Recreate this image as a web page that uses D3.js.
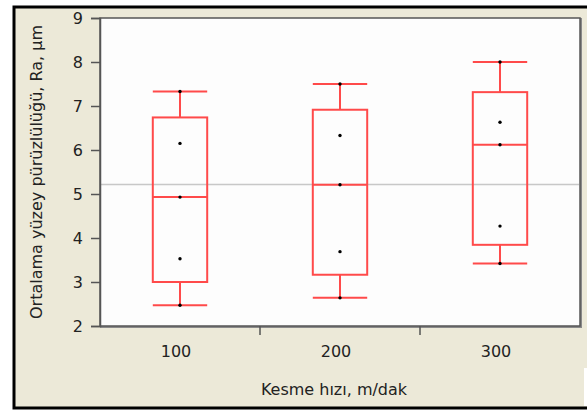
<!DOCTYPE html>
<html>
<head>
<meta charset="utf-8">
<script src="https://cdn.jsdelivr.net/npm/d3@7"></script>
<style>
  body { margin: 0; background: #fff; }
  svg { display: block; }
  text { font-family: "DejaVu Sans", "Liberation Sans", sans-serif; fill: #222; }
</style>
</head>
<body>
<svg id="chart" width="587" height="412"></svg>
<script>
// categories (cutting speed, m/min)
const categories = ["100", "200", "300"];

const ra_100 = [2.47, 3.53, 4.93, 6.15, 7.33];
const ra_200 = [2.64, 3.69, 5.21, 6.33, 7.50];
const ra_300 = [3.42, 4.27, 6.12, 6.63, 8.00];
const series = [ra_100, ra_200, ra_300];

const y_ticks = [2, 3, 4, 5, 6, 7, 8, 9];

const x_title = "Kesme hızı, m/dak";
const y_title = "Ortalama yüzey pürüzlülüğü, Ra, µm";

// layout
const plot_left = 100;
const plot_right = 580;
const plot_top = 18;
const plot_bottom = 326;
const box_frac = 0.34;
const box_color = "#ff4a4a";

const svg = d3.select("#chart");

// quantile the way the source software does it: position (n+1)p
function quantile(values, p) {
    const v = values.slice().sort((a, b) => a - b);
    const pos = (v.length + 1) * p - 1;
    const lo = Math.max(0, Math.floor(pos));
    const hi = Math.min(v.length - 1, lo + 1);
    return v[lo] + (pos - lo) * (v[hi] - v[lo]);
}

// frame
svg.append("rect").attr("x", 0).attr("y", 0).attr("width", 587).attr("height", 412).attr("fill", "#fff");
svg.append("rect")
    .attr("x", 14).attr("y", 7).attr("width", 600).attr("height", 401)
    .attr("fill", "#ece9d8").attr("stroke", "#000").attr("stroke-width", 3);
svg.append("rect")
    .attr("x", 584).attr("y", 368).attr("width", 3).attr("height", 38)
    .attr("fill", "#fff");

const x = d3.scaleBand()
    .domain(categories)
    .range([plot_left, plot_right])
    .padding(0);

const y = d3.scaleLinear()
    .domain([2, 9])
    .range([plot_bottom, plot_top]);

// plot area
svg.append("rect")
    .attr("x", plot_left + 1).attr("y", plot_top + 1)
    .attr("width", plot_right - plot_left).attr("height", plot_bottom - plot_top)
    .attr("fill", "#fdfdfd").attr("stroke", "#8a8a8a").attr("stroke-width", 2);
svg.append("rect")
    .attr("x", plot_left).attr("y", plot_top)
    .attr("width", plot_right - plot_left).attr("height", plot_bottom - plot_top)
    .attr("fill", "#fdfdfd").attr("stroke", "#555").attr("stroke-width", 1.5);

// grand mean line
const grand_mean = d3.mean(series.flat());
svg.append("line")
    .attr("x1", plot_left + 1).attr("x2", plot_right - 1)
    .attr("y1", y(grand_mean)).attr("y2", y(grand_mean))
    .attr("stroke", "#c8c8c8").attr("stroke-width", 1.5);

// y axis
const yAxis = svg.append("g")
    .attr("transform", "translate(" + plot_left + ",0)")
    .call(d3.axisLeft(y).tickValues(y_ticks).tickFormat(d3.format("d")).tickSize(9).tickPadding(8));
yAxis.select(".domain").attr("stroke", "#555").attr("stroke-width", 1.5);
yAxis.selectAll(".tick line").attr("stroke", "#555").attr("stroke-width", 1.5);
yAxis.selectAll(".tick text")
    .style("font-family", "'DejaVu Sans', sans-serif")
    .style("font-size", "16px").attr("fill", "#222");

// x axis: ticks between categories, labels at band centres
const boundaries = categories.slice(1).map(c => x(c));
svg.append("g").selectAll("line")
    .data(boundaries)
    .join("line")
    .attr("x1", d => d).attr("x2", d => d)
    .attr("y1", plot_bottom).attr("y2", plot_bottom + 9)
    .attr("stroke", "#555").attr("stroke-width", 1.5);

svg.append("g").selectAll("text")
    .data(categories)
    .join("text")
    .attr("x", d => x(d) + x.bandwidth() / 2 - 4)
    .attr("y", 357)
    .attr("text-anchor", "middle")
    .style("font-size", "16px")
    .text(d => d);

// boxes
const stats = series.map((vals, i) => ({
    cat: categories[i],
    vals: vals,
    min: d3.min(vals),
    max: d3.max(vals),
    q1: quantile(vals, 0.25),
    med: quantile(vals, 0.5),
    q3: quantile(vals, 0.75)
}));

const bw = x.bandwidth() * box_frac;
const boxes = svg.append("g").selectAll("g")
    .data(stats)
    .join("g")
    .attr("transform", d => "translate(" + (x(d.cat) + x.bandwidth() / 2) + ",0)");

boxes.append("rect")
    .attr("x", -bw / 2).attr("width", bw)
    .attr("y", d => y(d.q3)).attr("height", d => y(d.q1) - y(d.q3))
    .attr("fill", "none").attr("stroke", box_color).attr("stroke-width", 2);

boxes.append("line")
    .attr("x1", -bw / 2).attr("x2", bw / 2)
    .attr("y1", d => y(d.med)).attr("y2", d => y(d.med))
    .attr("stroke", box_color).attr("stroke-width", 2);

// whiskers
boxes.append("line")
    .attr("x1", 0).attr("x2", 0)
    .attr("y1", d => y(d.q3)).attr("y2", d => y(d.max))
    .attr("stroke", box_color).attr("stroke-width", 2);
boxes.append("line")
    .attr("x1", 0).attr("x2", 0)
    .attr("y1", d => y(d.q1)).attr("y2", d => y(d.min))
    .attr("stroke", box_color).attr("stroke-width", 2);
boxes.append("line")
    .attr("x1", -bw / 2).attr("x2", bw / 2)
    .attr("y1", d => y(d.max)).attr("y2", d => y(d.max))
    .attr("stroke", box_color).attr("stroke-width", 2);
boxes.append("line")
    .attr("x1", -bw / 2).attr("x2", bw / 2)
    .attr("y1", d => y(d.min)).attr("y2", d => y(d.min))
    .attr("stroke", box_color).attr("stroke-width", 2);

// points
boxes.selectAll("circle")
    .data(d => d.vals)
    .join("circle")
    .attr("cx", 0).attr("cy", d => y(d))
    .attr("r", 1.7).attr("fill", "#000");

// axis titles
svg.append("text")
    .attr("x", 334).attr("y", 395)
    .attr("text-anchor", "middle")
    .style("font-size", "16px")
    .text(x_title);

svg.append("text")
    .attr("transform", "translate(42," + ((plot_top + plot_bottom) / 2) + ") rotate(-90)")
    .attr("text-anchor", "middle")
    .style("font-size", "16px")
    .text(y_title);
</script>
</body>
</html>
